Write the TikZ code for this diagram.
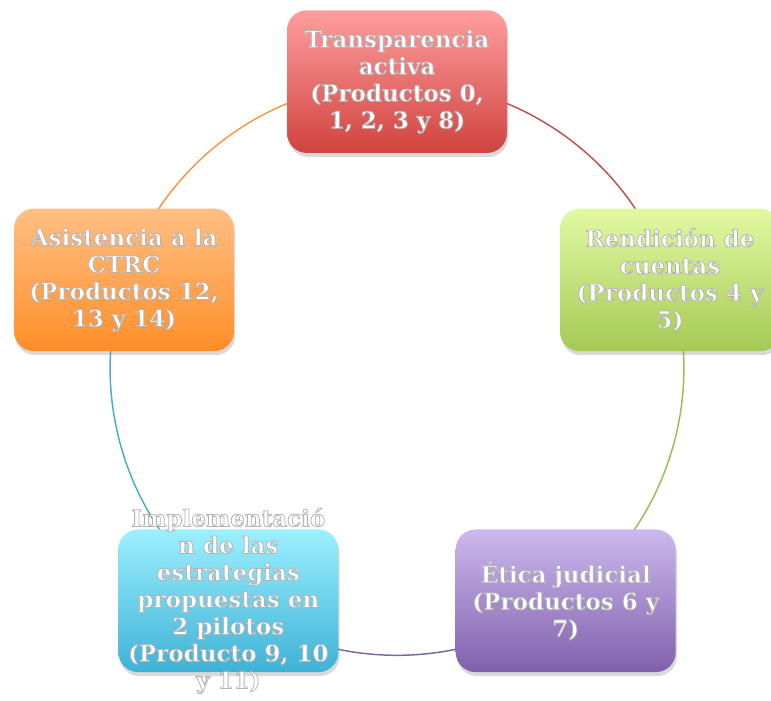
\documentclass[tikz,border=0pt]{standalone}
\usepackage{fontspec}
\setmainfont{DejaVu Serif}
\usepackage{xcolor}
\usetikzlibrary{positioning, calc, shadows, backgrounds}

\definecolor{rojoA}{HTML}{FF9E9E}
\definecolor{rojoB}{HTML}{D0433F}
\definecolor{rojoC}{HTML}{C0504D}
\definecolor{verdeA}{HTML}{E2F9A2}
\definecolor{verdeB}{HTML}{A4CA55}
\definecolor{verdeC}{HTML}{9BBB59}
\definecolor{moradoA}{HTML}{CCB8EE}
\definecolor{moradoB}{HTML}{8060AC}
\definecolor{moradoC}{HTML}{8064A2}
\definecolor{azulA}{HTML}{9CF0FF}
\definecolor{azulB}{HTML}{3EB2D6}
\definecolor{azulC}{HTML}{4BACC6}
\definecolor{naranjaA}{HTML}{FFBF84}
\definecolor{naranjaB}{HTML}{FF8E28}
\definecolor{naranjaC}{HTML}{F79646}

\begin{document}
\begin{tikzpicture}[x=0.75pt, y=0.75pt]
        % Definitions
        \def\radio{287}
        \def\cx{397}
        \def\cy{331.4}

        % Styles
        \tikzstyle{caja} = [rounded corners=15pt, minimum width=165pt, minimum height=107pt, shading=axis, drop shadow={opacity=0.3, shadow xshift=1pt, shadow yshift=-3pt}]
        \tikzstyle{texto} = [font=\bfseries\fontsize{17.25pt}{20.25pt}\selectfont, align=center, inner sep=0pt,
            execute at begin node={\special{pdf:literal direct 2 Tr 0.6 w 1 g 0.7 G}},
            execute at end node={\special{pdf:literal direct 0 Tr 0 g 0 G}}]
        \tikzstyle{arco} = [draw, line width=1.1pt, bend left=36, looseness=0.94]

        \clip (0,0) rectangle (771,700);
        \coordinate (centro) at (\cx,\cy);

        % Boxes
        \node[caja, top color=rojoA, bottom color=rojoB] (transparencia) at ($(centro)+(90:\radio)$) {};
        \node[caja, top color=verdeA, bottom color=verdeB] (rendicion) at ($(centro)+(18:\radio)$) {};
        \node[caja, top color=moradoA, bottom color=moradoB] (etica) at ($(centro)+(-54:\radio)$) {};
        \node[caja, top color=azulA, bottom color=azulB] (implementacion) at ($(centro)+(-126:\radio)$) {};
        \node[caja, top color=naranjaA, bottom color=naranjaB] (asistencia) at ($(centro)+(162:\radio)$) {};

        % Labels
        \node[texto] (transparencia-txt) at (transparencia.center) {Transparencia\\activa\\(Productos 0,\\1, 2, 3 y 8)};
        \node[texto] (rendicion-txt) at (rendicion.center) {Rendición de\\cuentas\\(Productos 4 y\\5)};
        \node[texto] (etica-txt) at (etica.center) {Ética judicial\\(Productos 6 y\\7)};
        \node[texto] (implementacion-txt) at (implementacion.center) {Implementació\\n de las\\estrategias\\propuestas en\\2 pilotos\\(Producto 9, 10\\y 11)};
        \node[texto] (asistencia-txt) at (asistencia.center) {Asistencia a la\\CTRC\\(Productos 12,\\13 y 14)};

        % Arcs
        \begin{scope}[on background layer]
            \draw[arco, rojoC] (transparencia.center) to (rendicion.center);
            \draw[arco, verdeC] (rendicion.center) to (etica.center);
            \draw[arco, moradoC] (etica.center) to (implementacion.center);
            \draw[arco, azulC] (implementacion.center) to (asistencia.center);
            \draw[arco, naranjaC] (asistencia.center) to (transparencia.center);
        \end{scope}

    \end{tikzpicture}
\end{document}
